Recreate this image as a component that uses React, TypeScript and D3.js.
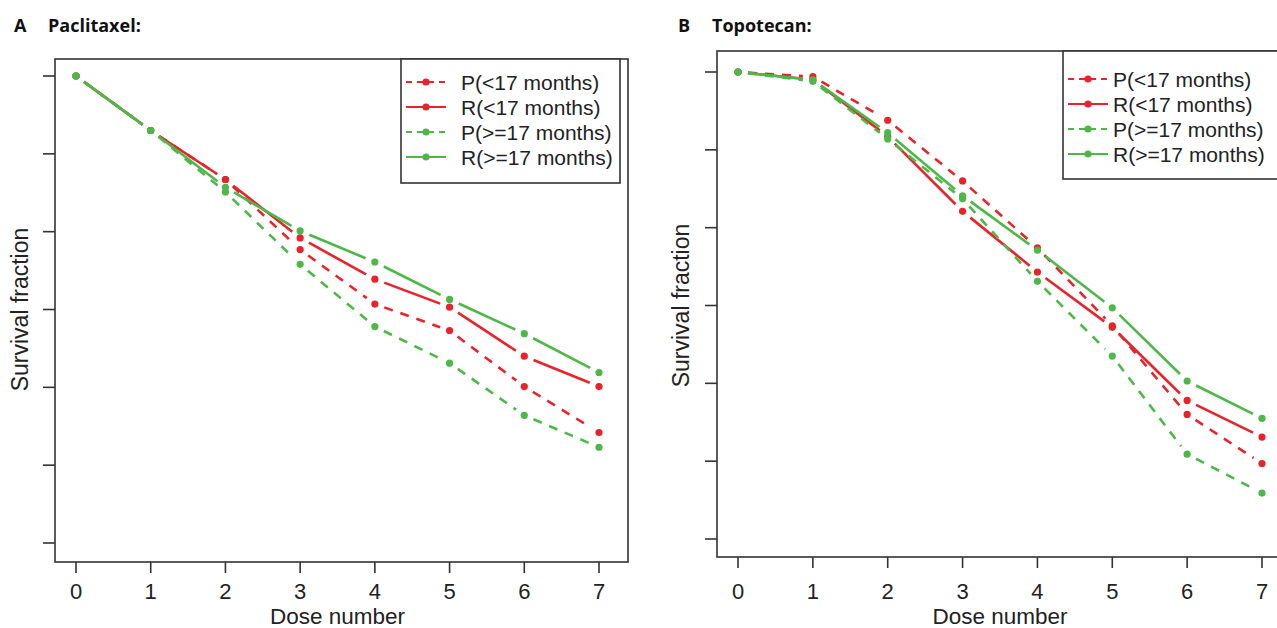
import React from "react";
import * as d3 from "d3";

const doses = [0, 1, 2, 3, 4, 5, 6, 7];
const xTicks = [0, 1, 2, 3, 4, 5, 6, 7];
const yTicks = [0.4, 0.5, 0.6, 0.7, 0.8, 0.9, 1.0];

const seriesNames = ["P(<17 months)", "R(<17 months)", "P(>=17 months)", "R(>=17 months)"];
const seriesColors = ["#e8232a", "#e8232a", "#4db848", "#4db848"];
const seriesDashed = [true, false, true, false];

// Paclitaxel
const paclitaxelPshort = [1.0, 0.930, 0.867, 0.777, 0.707, 0.673, 0.601, 0.542];
const paclitaxelRshort = [1.0, 0.930, 0.867, 0.792, 0.739, 0.703, 0.640, 0.601];
const paclitaxelPlong = [1.0, 0.930, 0.851, 0.758, 0.678, 0.631, 0.564, 0.523];
const paclitaxelRlong = [1.0, 0.930, 0.857, 0.801, 0.761, 0.713, 0.669, 0.619];

// Topotecan
const topotecanPshort = [1.0, 0.994, 0.938, 0.860, 0.774, 0.674, 0.560, 0.497];
const topotecanRshort = [1.0, 0.990, 0.917, 0.821, 0.743, 0.672, 0.578, 0.531];
const topotecanPlong = [1.0, 0.988, 0.914, 0.837, 0.731, 0.635, 0.509, 0.459];
const topotecanRlong = [1.0, 0.990, 0.922, 0.841, 0.771, 0.697, 0.603, 0.555];

const panels = [
  {
    letter: "A",
    title: "Paclitaxel:",
    letterX: 14, titleX: 48, titleY: 32,
    box: { left: 55, top: 59, right: 628, bottom: 562 },
    xRange: [76, 599], yRange: [543, 76],
    ylabX: 28,
    legend: { left: 401, top: 59, right: 620, bottom: 183, y0: 82, dy: 25, symL: 406, symR: 446, textX: 461 },
    series: [paclitaxelPshort, paclitaxelRshort, paclitaxelPlong, paclitaxelRlong],
  },
  {
    letter: "B",
    title: "Topotecan:",
    letterX: 678, titleX: 712, titleY: 32,
    box: { left: 717, top: 51, right: 1290, bottom: 557 },
    xRange: [738, 1262], yRange: [539, 72],
    ylabX: 689,
    legend: { left: 1063, top: 51, right: 1300, bottom: 179, y0: 79, dy: 25, symL: 1068, symR: 1108, textX: 1113 },
    series: [topotecanPshort, topotecanRshort, topotecanPlong, topotecanRlong],
  },
];

const AXIS_FONT = "'Liberation Sans', Arial, Helvetica, sans-serif";
const GAP = 10;

function Panel({ p }: { p: any }) {
  const x = d3.scaleLinear().domain([0, 7]).range(p.xRange);
  const y = d3.scaleLinear().domain([0.4, 1.0]).range(p.yRange);
  const b = p.box;
  const lg = p.legend;
  return (
    <g>
      <text x={p.letterX} y={p.titleY} fontFamily="'Open Sans', sans-serif" fontWeight={700} fontSize={18} fill="#111">{p.letter}</text>
      <text x={p.titleX} y={p.titleY} fontFamily="'Open Sans', sans-serif" fontWeight={700} fontSize={18} fill="#111">{p.title}</text>
      <rect x={b.left} y={b.top} width={b.right - b.left} height={b.bottom - b.top} fill="none" stroke="#333" strokeWidth={1.6} />
      {yTicks.map((t) => (
        <line key={"yt" + t} x1={b.left - 12} x2={b.left} y1={y(t)} y2={y(t)} stroke="#333" strokeWidth={1.6} />
      ))}
      {xTicks.map((t) => (
        <g key={"xt" + t}>
          <line x1={x(t)} x2={x(t)} y1={b.bottom} y2={b.bottom + 11} stroke="#333" strokeWidth={1.6} />
          <text x={x(t)} y={599} textAnchor="middle" fontFamily={AXIS_FONT} fontSize={22} fill="#222">{t}</text>
        </g>
      ))}
      <text x={(p.xRange[0] + p.xRange[1]) / 2} y={624} textAnchor="middle" fontFamily={AXIS_FONT} fontSize={22.5} fill="#222">Dose number</text>
      <text transform={`translate(${p.ylabX},${(p.yRange[0] + p.yRange[1]) / 2}) rotate(-90)`} textAnchor="middle" fontFamily={AXIS_FONT} fontSize={23} fill="#222">Survival fraction</text>
      {p.series.map((vals: number[], si: number) => {
        const pts = doses.map((d, i) => [x(d), y(vals[i])]);
        const segs = [] as any[];
        for (let i = 0; i < pts.length - 1; i++) {
          const [x1, y1] = pts[i];
          const [x2, y2] = pts[i + 1];
          const len = Math.hypot(x2 - x1, y2 - y1);
          if (len <= 2 * GAP) continue;
          const ux = (x2 - x1) / len, uy = (y2 - y1) / len;
          segs.push(
            <line key={"s" + i} x1={x1 + ux * GAP} y1={y1 + uy * GAP} x2={x2 - ux * GAP} y2={y2 - uy * GAP}
              stroke={seriesColors[si]} strokeWidth={2.6} strokeDasharray={seriesDashed[si] ? "9,8" : undefined} />
          );
        }
        return (
          <g key={"ser" + si}>
            {segs}
            {pts.map(([px, py], i) => (
              <circle key={"c" + i} cx={px} cy={py} r={3.6} fill={seriesColors[si]} />
            ))}
          </g>
        );
      })}
      <rect x={lg.left} y={lg.top} width={lg.right - lg.left} height={lg.bottom - lg.top} fill="white" stroke="#333" strokeWidth={1.6} />
      {seriesNames.map((name, si) => {
        const yy = lg.y0 + si * lg.dy;
        return (
          <g key={"lg" + si}>
            <line x1={lg.symL} x2={lg.symR} y1={yy} y2={yy} stroke={seriesColors[si]} strokeWidth={2} strokeDasharray={seriesDashed[si] ? "6,5" : undefined} />
            <circle cx={(lg.symL + lg.symR) / 2} cy={yy} r={3.6} fill={seriesColors[si]} />
            <text x={lg.textX} y={yy + 7.5} fontFamily={AXIS_FONT} fontSize={21} fill="#222">{name}</text>
          </g>
        );
      })}
    </g>
  );
}

export default function App() {
  return (
    <svg width={1277} height={628} style={{ position: "absolute", left: 0, top: 0, background: "white" }}>
      <rect x={0} y={0} width={1277} height={628} fill="white" />
      {panels.map((p) => (
        <Panel key={p.letter} p={p} />
      ))}
    </svg>
  );
}
